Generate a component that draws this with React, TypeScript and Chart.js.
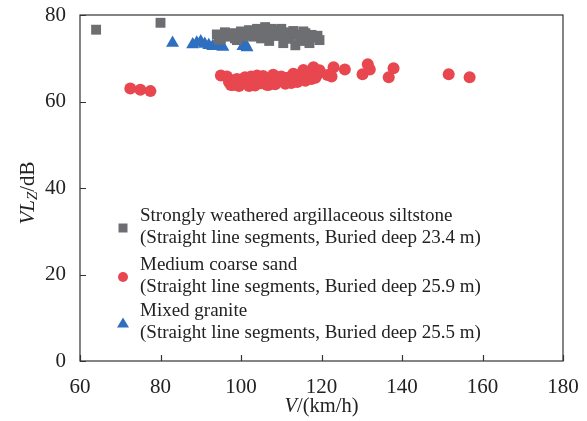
import React, { useEffect, useRef } from "react";
import { Chart, registerables } from "chart.js";

Chart.register(...registerables);

const xTicks = [60, 80, 100, 120, 140, 160, 180];
const yTicks = [0, 20, 40, 60, 80];

const siltstone: [number, number][] = [
  [64, 76.6], [80, 78.2],
  [94, 75.5], [94.5, 74.3], [95, 74.5], [96, 76], [96.5, 75.2], [97, 75], [98, 75.8], [98.5, 74.6],
  [99, 74.2], [100, 76.2], [100.5, 75], [101, 75.4], [102, 76.5], [102.5, 75.6], [103, 75],
  [103.5, 76], [104, 76.8], [104.5, 75.5], [105, 74.6], [105.5, 76.4], [106, 77.2], [106.5, 75.8],
  [107, 74], [107.5, 76.8], [108, 76.5], [108.5, 75.2], [109, 75.2], [109.5, 76.2], [110, 76.8],
  [110.5, 73.5], [111, 76], [111.5, 74.8], [112, 74.5], [112.5, 75.8], [113, 76.3], [113.5, 73],
  [114, 75.5], [114.5, 74.5], [115, 74], [115.5, 76.2], [116, 75.8], [116.5, 74.6], [117, 73.5],
  [117.5, 75.4], [118, 74.8], [119, 75.2], [119.5, 74.2],
];

const sand: [number, number][] = [
  [72.5, 63], [75, 62.7], [77.5, 62.4],
  [95, 66], [96.5, 65.8], [97, 64.5], [97.5, 63.8], [98, 63.8], [98.5, 65], [99, 65.2],
  [99.5, 63.6], [100, 64], [100.5, 65.2], [101, 65.6], [101.5, 64.3], [102, 63.6], [102.5, 65.8],
  [103, 64.8], [103.5, 63.7], [104, 66], [104.5, 64.9], [105, 64.2], [105.5, 65.9], [106, 65.3],
  [106.5, 63.8], [107, 63.9], [107.5, 65], [108, 66.2], [108.5, 64], [109, 64.6], [109.5, 65.6],
  [110, 65.8], [110.5, 64.6], [111, 64.1], [111.5, 65.5], [112, 65.2], [112.5, 64.3], [113, 66.4],
  [113.5, 65.1], [114, 64.5], [114.5, 66.1], [115, 65.8], [115.5, 67.3], [116, 64.8], [116.5, 66],
  [117, 66.8], [117.5, 65.2], [118, 67.9], [118.5, 65.5], [119, 66.3], [119.5, 67.2],
  [121.5, 66.1], [122.5, 65.8], [123, 67.9], [125.8, 67.4], [130.2, 66.3], [131.5, 68.6],
  [132, 67.4], [136.7, 65.6], [137.9, 67.7], [151.6, 66.3], [156.8, 65.6],
];

const granite: [number, number][] = [
  [83, 73.5], [88, 73.2], [89, 73.6], [90, 73.9], [91, 73.3], [92, 73], [93, 72.8],
  [94, 73.6], [95, 73], [95.5, 72.6], [100.5, 72.8], [101, 73.3], [101.5, 72.5], [111, 75.2],
];

const legendLines: [string, string][] = [
  ["Strongly weathered argillaceous siltstone", "(Straight line segments, Buried deep 23.4 m)"],
  ["Medium coarse sand", "(Straight line segments, Buried deep 25.9 m)"],
  ["Mixed granite", "(Straight line segments, Buried deep 25.5 m)"],
];

const GRAY = "#6d6e71";
const RED = "#e8474f";
const BLUE = "#2e6fc0";
const FONT = "'Liberation Serif', 'Times New Roman', serif";
const AXIS = "#333333";

const toPts = (a: [number, number][]) => a.map(([x, y]) => ({ x, y }));

const decorPlugin = {
  id: "decor",
  afterDraw(chart: any) {
    const { ctx, chartArea: a, scales } = chart;
    ctx.save();
    ctx.strokeStyle = AXIS;
    ctx.lineWidth = 1.2;
    ctx.strokeRect(a.left, a.top, a.right - a.left, a.bottom - a.top);
    ctx.beginPath();
    xTicks.forEach((v) => {
      const px = Math.round(scales.x.getPixelForValue(v)) + 0.5;
      ctx.moveTo(px, a.bottom);
      ctx.lineTo(px, a.bottom - 6);
    });
    yTicks.forEach((v) => {
      const py = Math.round(scales.y.getPixelForValue(v)) + 0.5;
      ctx.moveTo(a.left, py);
      ctx.lineTo(a.left + 6, py);
    });
    ctx.stroke();

    // x title
    ctx.fillStyle = "#222";
    ctx.textBaseline = "middle";
    ctx.textAlign = "left";
    const xt1 = "V";
    const xt2 = "/(km/h)";
    ctx.font = `italic 20.5px ${FONT}`;
    const w1 = ctx.measureText(xt1).width;
    ctx.font = `20.5px ${FONT}`;
    const w2 = ctx.measureText(xt2).width;
    const sx = (a.left + a.right) / 2 - (w1 + w2) / 2;
    const ty = 407;
    ctx.font = `italic 20.5px ${FONT}`;
    ctx.fillText(xt1, sx, ty);
    ctx.font = `20.5px ${FONT}`;
    ctx.fillText(xt2, sx + w1, ty);

    // y title rotated
    ctx.save();
    ctx.translate(28, 193);
    ctx.rotate(-Math.PI / 2);
    ctx.font = `italic 21px ${FONT}`;
    const a1 = ctx.measureText("VL").width;
    ctx.font = `italic 15px ${FONT}`;
    const a2 = ctx.measureText("Z").width;
    ctx.font = `21px ${FONT}`;
    const a3 = ctx.measureText("/dB").width;
    const rx = -(a1 + a2 + a3) / 2;
    ctx.font = `italic 21px ${FONT}`;
    ctx.fillText("VL", rx, 0);
    ctx.font = `italic 15px ${FONT}`;
    ctx.fillText("Z", rx + a1, 5);
    ctx.font = `21px ${FONT}`;
    ctx.fillText("/dB", rx + a1 + a2, 0);
    ctx.restore();

    // legend
    const rows = [216, 265, 311];
    const colors = [GRAY, RED, BLUE];
    ctx.font = `19px ${FONT}`;
    rows.forEach((ry, i) => {
      ctx.fillStyle = "#222";
      ctx.fillText(legendLines[i][0], 140, ry);
      ctx.fillText(legendLines[i][1], 140, ry + 22);
      const my = ry + 12;
      const mx = 123;
      ctx.fillStyle = colors[i];
      ctx.beginPath();
      if (i === 0) {
        ctx.rect(mx - 4.5, my - 4.5, 9, 9);
      } else if (i === 1) {
        ctx.arc(mx, my, 5, 0, Math.PI * 2);
      } else {
        ctx.moveTo(mx, my - 5.5);
        ctx.lineTo(mx + 6, my + 4.5);
        ctx.lineTo(mx - 6, my + 4.5);
        ctx.closePath();
      }
      ctx.fill();
    });
    ctx.restore();
  },
};

export default function App() {
  const ref = useRef<HTMLCanvasElement>(null);
  useEffect(() => {
    if (!ref.current) return;
    const chart = new Chart(ref.current, {
      type: "scatter",
      data: {
        datasets: [
          {
            label: "siltstone",
            data: toPts(siltstone),
            backgroundColor: GRAY,
            borderColor: GRAY,
            pointStyle: "rect",
            pointRadius: 7,
            borderWidth: 0,
          },
          {
            label: "sand",
            data: toPts(sand),
            backgroundColor: RED,
            borderColor: RED,
            pointStyle: "circle",
            pointRadius: 6,
            borderWidth: 0,
          },
          {
            label: "granite",
            data: toPts(granite),
            backgroundColor: BLUE,
            borderColor: BLUE,
            pointStyle: "triangle",
            pointRadius: 7.5,
            borderWidth: 0,
          },
        ],
      },
      options: {
        animation: false,
        responsive: false,
        maintainAspectRatio: false,
        layout: { padding: { top: 15, right: 24, left: 0, bottom: 0 } },
        plugins: { legend: { display: false }, tooltip: { enabled: false } },
        scales: {
          x: {
            type: "linear",
            min: 60,
            max: 180,
            afterFit: (s: any) => { s.height = 60; s.paddingLeft = 0; s.paddingRight = 0; },
            afterBuildTicks: (s: any) => { s.ticks = xTicks.map((v) => ({ value: v })); },
            grid: { display: false },
            border: { display: false },
            ticks: { color: "#222", font: { family: FONT, size: 21 }, padding: 6, maxRotation: 0 },
          },
          y: {
            type: "linear",
            min: 0,
            max: 80,
            afterFit: (s: any) => { s.width = 80; s.paddingTop = 0; s.paddingBottom = 0; },
            afterBuildTicks: (s: any) => { s.ticks = yTicks.map((v) => ({ value: v })); },
            grid: { display: false },
            border: { display: false },
            ticks: { color: "#222", font: { family: FONT, size: 21 }, padding: 6 },
          },
        },
      },
      plugins: [decorPlugin],
    });
    return () => chart.destroy();
  }, []);
  return (
    <div style={{ position: "absolute", left: 0, top: 0, width: 587, height: 421, background: "#fff" }}>
      <canvas ref={ref} width={587} height={421} style={{ width: 587, height: 421 }} />
    </div>
  );
}
